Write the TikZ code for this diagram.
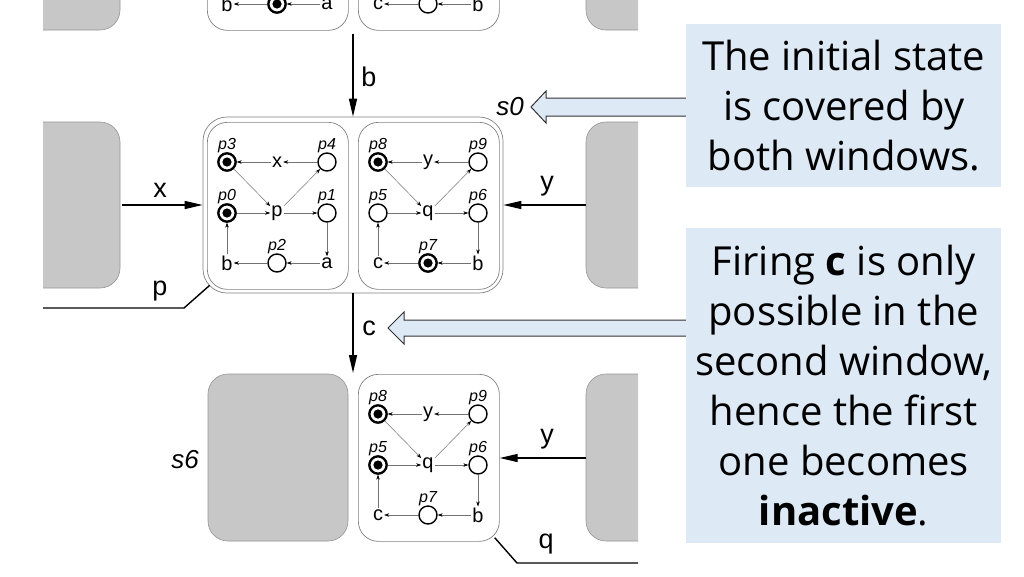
\documentclass[tikz,border=0pt]{standalone}
\usepackage{fontspec}
\setmainfont{Liberation Sans}
\newfontfamily\callfont{Open Sans}
\usetikzlibrary{arrows.meta}
\newcommand\winLeft[4]{%
\begin{scope}[shift={(#1,#2)}]
 \node[winframe, anchor=north west] (#3win) at (0,0) {};
 \node[pl] (#3p3) at (20,40) {};
 \node[lt] (#3x) at (70,40) {x};
 \node[pl] (#3p4) at (120,40) {};
 \node[pl] (#3p0) at (20,91) {};
 \node[lt] (#3p) at (70,91) {p};
 \node[pl] (#3p1) at (120,91) {};
 \node[lt] (#3b) at (20,141) {b};
 \node[pl] (#3p2) at (70,141) {};
 \node[lt] (#3a) at (120,141) {a};
 \node[plab] at (20,24) {p3};
 \node[plab] at (120,24) {p4};
 \node[plab] at (20,75) {p0};
 \node[plab] at (120,75) {p1};
 \node[plab] at (70,125) {p2};
 \draw[tr] (#3p4) -- (#3x);
 \draw[tr] (#3x) -- (#3p3);
 \draw[tr] (#3p3) -- (#3p);
 \draw[tr] (#3p) -- (#3p4);
 \draw[tr] (#3p0) -- (#3p);
 \draw[tr] (#3p) -- (#3p1);
 \draw[tr] (#3p1) -- (#3a);
 \draw[tr] (#3a) -- (#3p2);
 \draw[tr] (#3p2) -- (#3b);
 \draw[tr] (#3b) -- (#3p0);
 \foreach \m in {#4} {\draw[line width=2.2pt] (#3\m) circle (8.6); \fill (#3\m) circle (4.6);}
\end{scope}}
\newcommand\winRight[4]{%
\begin{scope}[shift={(#1,#2)}]
 \node[winframe, anchor=north west] (#3win) at (0,0) {};
 \node[pl] (#3p8) at (20,40) {};
 \node[lt] (#3y) at (70,40) {y};
 \node[pl] (#3p9) at (120,40) {};
 \node[pl] (#3p5) at (20,91) {};
 \node[lt] (#3q) at (70,91) {q};
 \node[pl] (#3p6) at (120,91) {};
 \node[lt] (#3c) at (20,141) {c};
 \node[pl] (#3p7) at (70,141) {};
 \node[lt] (#3b) at (120,141) {b};
 \node[plab] at (20,24) {p8};
 \node[plab] at (120,24) {p9};
 \node[plab] at (20,75) {p5};
 \node[plab] at (120,75) {p6};
 \node[plab] at (70,125) {p7};
 \draw[tr] (#3p9) -- (#3y);
 \draw[tr] (#3y) -- (#3p8);
 \draw[tr] (#3p8) -- (#3q);
 \draw[tr] (#3q) -- (#3p9);
 \draw[tr] (#3p5) -- (#3q);
 \draw[tr] (#3q) -- (#3p6);
 \draw[tr] (#3p6) -- (#3b);
 \draw[tr] (#3b) -- (#3p7);
 \draw[tr] (#3p7) -- (#3c);
 \draw[tr] (#3c) -- (#3p5);
 \foreach \m in {#4} {\draw[line width=2.2pt] (#3\m) circle (8.6); \fill (#3\m) circle (4.6);}
\end{scope}}
\begin{document}
\begin{tikzpicture}[x=1pt,y=-1pt,
  winframe/.style={draw=black!50, line width=0.7pt, rounded corners=20pt, minimum width=141pt, minimum height=167pt, inner sep=0pt},
  grayblk/.style={fill=black!22, draw=black!42, line width=0.6pt, rounded corners=20pt},
  pl/.style={circle, draw, line width=1.4pt, minimum size=18pt, inner sep=0pt},
  lt/.style={font=\fontsize{20}{20}\selectfont, inner sep=1pt},
  plab/.style={font=\itshape\fontsize{16}{16}\selectfont, inner sep=0pt},
  tr/.style={draw=black!55, line width=0.5pt, -{Stealth[length=5pt,width=3.5pt,color=black]}},
  bigarr/.style={line width=1.4pt, -{Triangle[length=18pt,width=8pt]}},
  thickln/.style={line width=1.4pt},
  biglab/.style={font=\fontsize{27}{27}\selectfont, inner sep=0pt},
  slab/.style={font=\itshape\fontsize{26}{26}\selectfont, inner sep=0pt},
  callbox/.style={fill=calblue, inner sep=0pt, anchor=north west, align=center, font=\callfont\fontsize{40}{50}\selectfont},
  hollow/.style={fill=calblue, draw=black!80, line width=1pt, line join=miter}
]
\definecolor{calblue}{HTML}{DEE9F6}
\useasboundingbox (0,0) rectangle (1024,576);
\begin{scope}
\clip (43,-200) rectangle (638,600);
% top row (previous state, mostly outside the page)
\draw[grayblk] (-40,-137) rectangle (120,30);
\draw[grayblk] (586,-137) rectangle (740,30);
\winLeft{207}{-137}{tA}{p2}
\winRight{358}{-137}{tB}{p8}
% middle row: s0
\draw[grayblk] (-40,122) rectangle (120,288);
\draw[grayblk] (586,122) rectangle (740,288);
\node[draw=black!50, line width=0.7pt, rounded corners=24pt, minimum width=300pt, minimum height=176pt, inner sep=0pt] (s0) at (353,205) {};
\winLeft{207}{122}{mA}{p3,p0}
\winRight{358}{122}{mB}{p8,p7}
% bottom row: s6
\draw[grayblk] (208,374) rectangle (348,541);
\winRight{358}{374}{bB}{p8,p5}
\draw[grayblk] (586,374) rectangle (740,541);
% connectors
\coordinate (bStart) at (353,34);
\coordinate (cEnd) at (353,373);
\coordinate (xStart) at (122,205);
\coordinate (yStart) at (586,205);
\coordinate (y2Start) at (586,458);
\coordinate (pFree) at (43,308);
\coordinate (pBend) at (184,308);
\coordinate (qBend) at (517,563);
\coordinate (qFree) at (640,563);
\draw[bigarr] (bStart) -- (s0.north);
\draw[bigarr] (s0.south) -- (cEnd);
\draw[bigarr] (xStart) -- (xStart -| s0.west);
\draw[bigarr] (yStart) -- (yStart -| s0.east);
\draw[bigarr] (y2Start) -- (y2Start -| bBwin.east);
\draw[thickln] (pFree) -- (pBend) -- ([shift={(7,-8)}]s0.south west);
\draw[thickln] ([shift={(-5,-4)}]bBwin.south east) -- (qBend) -- (qFree);
\node[biglab] at (369,77) {b};
\node[biglab] at (369,328) {c};
\node[biglab] at (160,190) {x};
\node[biglab] at (160,291) {p};
\node[biglab] at (547,186) {y};
\node[biglab] at (547,439) {y};
\node[biglab] at (546,544) {q};
\node[slab] at (185,460) {s6};
\end{scope}
\node[slab] at (510,107) {s0};
% callouts
\draw[hollow] (700,98) -- (546,98) -- (546,91) -- (531,107) -- (546,123) -- (546,116) -- (700,116) -- cycle;
\draw[hollow] (700,320) -- (404,320) -- (404,312) -- (388,328) -- (404,344) -- (404,336) -- (700,336) -- cycle;
\node[callbox, minimum width=315pt, minimum height=163pt] (cb1) at (686,24) {The initial state\\is covered by\\both windows.};
\node[callbox, minimum width=315pt, minimum height=315pt] (cb2) at (686,228) {Firing \textbf{c} is only\\possible in the\\second window,\\hence the first\\one becomes\\\textbf{inactive}.};
\end{tikzpicture}
\end{document}
